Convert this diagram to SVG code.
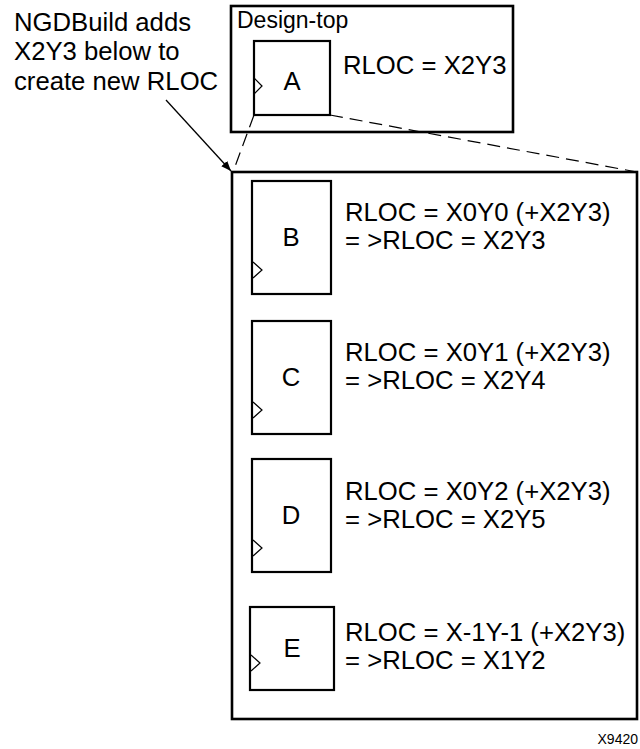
<svg xmlns="http://www.w3.org/2000/svg" width="640" height="749" viewBox="0 0 640 749">
<style>
text{font-family:"Liberation Sans",Arial,sans-serif;font-size:25.7px;fill:#000}
.box{fill:#fff;stroke:#000;stroke-width:2.6}
.cell{fill:#fff;stroke:#000;stroke-width:2.2}
.clk{fill:none;stroke:#000;stroke-width:1.2}
.dash{fill:none;stroke:#000;stroke-width:1.2;stroke-dasharray:13 7}
.ln{fill:none;stroke:#000;stroke-width:1.3}
.mid{text-anchor:middle}
</style>
<defs>
<marker id="ah" viewBox="0 0 10 10" refX="10" refY="5" markerWidth="10" markerHeight="10" markerUnits="userSpaceOnUse" orient="auto">
<path d="M0,1 L10,5 L0,9 Z" fill="#000"/>
</marker>
</defs>
<g id="note">
<text x="14" y="31">NGDBuild adds</text>
<text x="14" y="60">X2Y3 below to</text>
<text x="14" y="90">create new RLOC</text>
</g>
<g id="design-top">
<rect class="box" x="231" y="6" width="282" height="126"/>
<text x="237" y="28" style="font-size:23px">Design-top</text>
</g>
<g id="A">
<rect class="cell" x="254" y="41" width="76" height="74"/>
<path class="clk" d="M254,78 L262,86 L254,94"/>
<text class="mid" x="292" y="90">A</text>
<text x="343" y="74">RLOC = X2Y3</text>
</g>
<g id="expanded">
<rect class="box" x="232" y="172" width="405" height="547"/>
</g>
<g id="B">
<rect class="cell" x="252" y="181" width="79" height="113"/>
<path class="clk" d="M253,262 L262,270 L253,278"/>
<text class="mid" x="291" y="246">B</text>
<text x="345" y="221">RLOC = X0Y0 (+X2Y3)</text>
<text x="345" y="249">= &gt;RLOC = X2Y3</text>
</g>
<g id="C">
<rect class="cell" x="252" y="321" width="79" height="113"/>
<path class="clk" d="M253,402 L262,410 L253,418"/>
<text class="mid" x="291" y="386">C</text>
<text x="345" y="361">RLOC = X0Y1 (+X2Y3)</text>
<text x="345" y="389">= &gt;RLOC = X2Y4</text>
</g>
<g id="D">
<rect class="cell" x="252" y="459" width="79" height="113"/>
<path class="clk" d="M253,540 L262,548 L253,556"/>
<text class="mid" x="291" y="524">D</text>
<text x="345" y="500">RLOC = X0Y2 (+X2Y3)</text>
<text x="345" y="528">= &gt;RLOC = X2Y5</text>
</g>
<g id="E">
<rect class="cell" x="250" y="607" width="84" height="83"/>
<path class="clk" d="M251,655 L260,663 L251,671"/>
<text class="mid" x="292" y="657">E</text>
<text x="345" y="641">RLOC = X-1Y-1 (+X2Y3)</text>
<text x="345" y="669">= &gt;RLOC = X1Y2</text>
</g>
<g id="connectors">
<path class="dash" d="M254,115 L233,172"/>
<path class="dash" d="M330,115 L637,172"/>
<path class="ln" d="M166,100 L231,171" marker-end="url(#ah)"/>
</g>
<text x="638" y="744" style="font-size:14px;text-anchor:end">X9420</text>
</svg>
